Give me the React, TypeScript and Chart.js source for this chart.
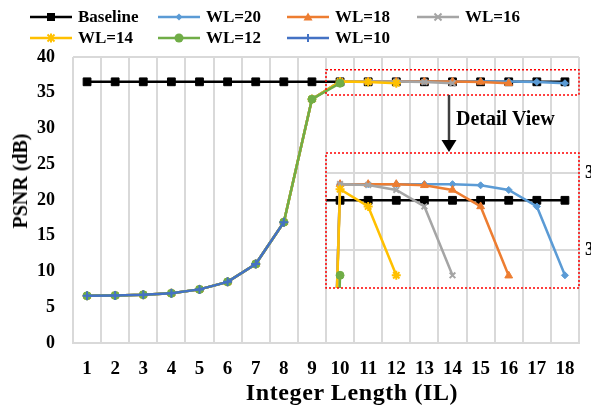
import React, { useEffect, useRef } from 'react';
import { Chart, registerables } from 'chart.js';

Chart.register(...registerables);

const categories = ['1', '2', '3', '4', '5', '6', '7', '8', '9', '10', '11', '12', '13', '14', '15', '16', '17', '18'];
const baseline = [36.53, 36.53, 36.53, 36.53, 36.53, 36.53, 36.53, 36.53, 36.53, 36.53, 36.53, 36.53, 36.53, 36.53, 36.53, 36.53, 36.53, 36.53];
const wl20 = [6.6, 6.65, 6.75, 6.95, 7.5, 8.55, 11.05, 16.9, 34.1, 36.572, 36.572, 36.572, 36.572, 36.572, 36.569, 36.557, 36.514, 36.335];
const wl18 = [6.6, 6.65, 6.75, 6.95, 7.5, 8.55, 11.05, 16.9, 34.1, 36.572, 36.572, 36.572, 36.569, 36.557, 36.514, 36.334, null, null];
const wl16 = [6.6, 6.65, 6.75, 6.95, 7.5, 8.55, 11.05, 16.9, 34.1, 36.572, 36.57, 36.557, 36.514, 36.335, null, null, null, null];
const wl14 = [6.6, 6.65, 6.75, 6.95, 7.5, 8.55, 11.05, 16.9, 34.1, 36.559, 36.514, 36.335, null, null, null, null, null, null];
const wl12 = [6.6, 6.65, 6.75, 6.95, 7.5, 8.55, 11.05, 16.9, 34.1, 36.335, null, null, null, null, null, null, null, null];
const wl10 = [6.6, 6.65, 6.75, 6.95, 7.5, 8.55, 11.05, 16.9, null, null, null, null, null, null, null, null, null, null];
const insetTicks = [36.4, 36.6];

const FONT = "'Liberation Serif', 'Times New Roman', serif";

type Series = { label: string; data: (number | null)[]; color: string; pointStyle: string; radius: number };

const series: Series[] = [
  { label: 'Baseline', data: baseline, color: '#000000', pointStyle: 'rect', radius: 5.5 },
  { label: 'WL=20', data: wl20, color: '#5B9BD5', pointStyle: 'rectRot', radius: 3.5 },
  { label: 'WL=18', data: wl18, color: '#ED7D31', pointStyle: 'triangle', radius: 4.5 },
  { label: 'WL=16', data: wl16, color: '#A5A5A5', pointStyle: 'crossRot', radius: 4 },
  { label: 'WL=14', data: wl14, color: '#FFC000', pointStyle: 'star', radius: 4.5 },
  { label: 'WL=12', data: wl12, color: '#70AD47', pointStyle: 'circle', radius: 4 },
  { label: 'WL=10', data: wl10, color: '#4472C4', pointStyle: 'cross', radius: 4.5 },
];

const legendPos = [
  { x: 30, y: 17 }, { x: 158, y: 17 }, { x: 287, y: 17 }, { x: 417, y: 17 },
  { x: 30, y: 38 }, { x: 158, y: 38 }, { x: 287, y: 38 },
];

function dsStyle(s: Series, i: number) {
  return {
    label: s.label,
    borderColor: s.color,
    backgroundColor: s.color,
    borderWidth: 2.5,
    pointStyle: s.pointStyle,
    pointRadius: s.radius,
    pointBorderWidth: s.pointStyle === 'crossRot' || s.pointStyle === 'cross' || s.pointStyle === 'star' ? 2 : 1,
    pointBackgroundColor: s.color,
    pointBorderColor: s.color,
    tension: 0,
    spanGaps: false,
    order: series.length - 1 - i,
  };
}

function redDotted(ctx: CanvasRenderingContext2D, x0: number, y0: number, x1: number, y1: number) {
  ctx.save();
  ctx.strokeStyle = '#FF0000';
  ctx.lineWidth = 1.5;
  ctx.setLineDash([2, 2]);
  ctx.strokeRect(x0, y0, x1 - x0, y1 - y0);
  ctx.restore();
}

function Marker({ s }: { s: Series }) {
  const c = s.color;
  const cx = 21, cy = 7;
  let m: React.ReactNode = null;
  switch (s.pointStyle) {
    case 'rect': m = <rect x={cx - 4} y={cy - 4} width={8} height={8} fill={c} />; break;
    case 'rectRot': m = <polygon points={`${cx},${cy - 3.5} ${cx + 3.5},${cy} ${cx},${cy + 3.5} ${cx - 3.5},${cy}`} fill={c} />; break;
    case 'triangle': m = <polygon points={`${cx},${cy - 4.5} ${cx + 4.5},${cy + 3.5} ${cx - 4.5},${cy + 3.5}`} fill={c} />; break;
    case 'crossRot': m = <path d={`M${cx - 3.5},${cy - 3.5}L${cx + 3.5},${cy + 3.5}M${cx + 3.5},${cy - 3.5}L${cx - 3.5},${cy + 3.5}`} stroke={c} strokeWidth={2} />; break;
    case 'star': m = <path d={`M${cx - 3.5},${cy - 3.5}L${cx + 3.5},${cy + 3.5}M${cx + 3.5},${cy - 3.5}L${cx - 3.5},${cy + 3.5}M${cx},${cy - 4.5}L${cx},${cy + 4.5}M${cx - 4.5},${cy}L${cx + 4.5},${cy}`} stroke={c} strokeWidth={2} />; break;
    case 'circle': m = <circle cx={cx} cy={cy} r={4.5} fill={c} />; break;
    case 'cross': m = <path d={`M${cx},${cy - 4}L${cx},${cy + 4}M${cx - 4},${cy}L${cx + 4},${cy}`} stroke={c} strokeWidth={2} />; break;
  }
  return (
    <svg width={42} height={14} style={{ display: 'block' }}>
      <line x1={0} y1={cy} x2={42} y2={cy} stroke={c} strokeWidth={2.5} />
      {m}
    </svg>
  );
}

export default function App() {
  const mainRef = useRef<HTMLCanvasElement>(null);
  const insetRef = useRef<HTMLCanvasElement>(null);

  useEffect(() => {
    if (!mainRef.current || !insetRef.current) return;
    const tickFont = { family: FONT, size: 18, weight: 'bold' as const };

    const mainPlugin = {
      id: 'mainDecor',
      afterDraw(chart: any) {
        const { ctx, chartArea } = chart;
        const ys = chart.scales.y;
        const x0 = chartArea.left + ((chartArea.right - chartArea.left) * 9) / 18;
        const x1 = chartArea.right;
        const y0 = ys.getPixelForValue(38.2);
        const y1 = ys.getPixelForValue(34.7);
        redDotted(ctx, x0, y0, x1, y1);
        // arrow
        ctx.save();
        ctx.strokeStyle = '#404040';
        ctx.lineWidth = 2.5;
        ctx.beginPath();
        ctx.moveTo(449, y1);
        ctx.lineTo(449, 141);
        ctx.stroke();
        ctx.fillStyle = '#000000';
        ctx.beginPath();
        ctx.moveTo(441.5, 140);
        ctx.lineTo(456.5, 140);
        ctx.lineTo(449, 152);
        ctx.closePath();
        ctx.fill();
        ctx.font = `bold 20px ${FONT}`;
        ctx.textBaseline = 'middle';
        ctx.textAlign = 'left';
        ctx.fillText('Detail View', 456, 120);
        ctx.restore();
      },
    };

    const main = new Chart(mainRef.current, {
      type: 'line',
      data: {
        labels: categories,
        datasets: series.map((s, i) => ({ ...dsStyle(s, i), data: s.data })) as any,
      },
      options: {
        responsive: false,
        animation: false,
        layout: { padding: { left: 0, right: 12, top: 57, bottom: 0 } },
        plugins: { legend: { display: false }, tooltip: { enabled: false }, title: { display: false } },
        scales: {
          x: {
            type: 'category',
            offset: true,
            grid: { offset: true, color: '#D9D9D9', lineWidth: 2, drawTicks: false },
            border: { color: '#D9D9D9', width: 2 },
            ticks: { color: '#000000', font: { ...tickFont, size: 19 }, padding: 15, maxRotation: 0, autoSkip: false },
            afterFit: (s: any) => { s.height = 66; },
          },
          y: {
            min: 0,
            max: 40,
            ticks: { stepSize: 5, color: '#000000', font: tickFont, padding: 18 },
            grid: {
              drawTicks: false,
              lineWidth: 2,
              color: (c: any) => (c.tick && c.tick.value === 40 ? '#D9D9D9' : 'rgba(0,0,0,0)'),
            },
            border: { display: false },
            afterFit: (s: any) => { s.width = 73; },
          },
        },
      } as any,
      plugins: [mainPlugin],
    });

    const insetPlugin = {
      id: 'insetDecor',
      afterDraw(chart: any) {
        const { ctx, chartArea } = chart;
        redDotted(ctx, chartArea.left, chartArea.top, chartArea.right, chartArea.bottom);
      },
    };

    const inset = new Chart(insetRef.current, {
      type: 'line',
      data: {
        datasets: series.map((s, i) => ({
          ...dsStyle(s, i),
          clip: 0,
          data: s.data
            .map((v, k) => ({ x: k + 1, y: v }))
            .filter((p) => p.x >= 9 && p.y !== null),
        })) as any,
      },
      options: {
        responsive: false,
        animation: false,
        layout: { padding: { left: 326, right: 0, top: 153, bottom: 121 } },
        plugins: { legend: { display: false }, tooltip: { enabled: false }, title: { display: false } },
        scales: {
          x: { type: 'linear', min: 9.5, max: 18.5, display: false },
          y: {
            type: 'linear',
            position: 'right',
            min: 36.302,
            max: 36.653,
            afterBuildTicks: (s: any) => { s.ticks = insetTicks.map((v) => ({ value: v })); },
            grid: { color: '#D9D9D9', lineWidth: 2, drawTicks: false },
            border: { display: false },
            ticks: { color: '#000000', font: tickFont, padding: 6, callback: (v: any) => Number(v).toFixed(1) },
            afterFit: (s: any) => { s.width = 12; },
          },
        },
      } as any,
      plugins: [insetPlugin],
    });

    return () => {
      main.destroy();
      inset.destroy();
    };
  }, []);

  const textStyle: React.CSSProperties = { fontFamily: FONT, fontWeight: 'bold', color: '#000', whiteSpace: 'nowrap' };

  return (
    <div style={{ position: 'fixed', left: 0, top: 0, width: 591, height: 409, overflow: 'hidden', background: '#ffffff' }}>
      <canvas ref={mainRef} width={591} height={409} style={{ position: 'absolute', left: 0, top: 0, width: 591, height: 409 }} />
      <canvas ref={insetRef} width={591} height={409} style={{ position: 'absolute', left: 0, top: 0, width: 591, height: 409 }} />
      {series.map((s, i) => (
        <div key={s.label} style={{ position: 'absolute', left: legendPos[i].x, top: legendPos[i].y - 10, height: 20, display: 'flex', alignItems: 'center' }}>
          <Marker s={s} />
          <span style={{ ...textStyle, fontSize: 17, marginLeft: 6, lineHeight: '20px' }}>{s.label}</span>
        </div>
      ))}
      <div style={{ ...textStyle, position: 'absolute', left: 20, top: 181, fontSize: 20, lineHeight: '24px', transform: 'translate(-50%, -50%) rotate(-90deg)' }}>PSNR (dB)</div>
      <div style={{ ...textStyle, position: 'absolute', left: 352, top: 392, fontSize: 24, letterSpacing: 0.6, lineHeight: '26px', transform: 'translate(-50%, -50%)' }}>Integer Length (IL)</div>
    </div>
  );
}
